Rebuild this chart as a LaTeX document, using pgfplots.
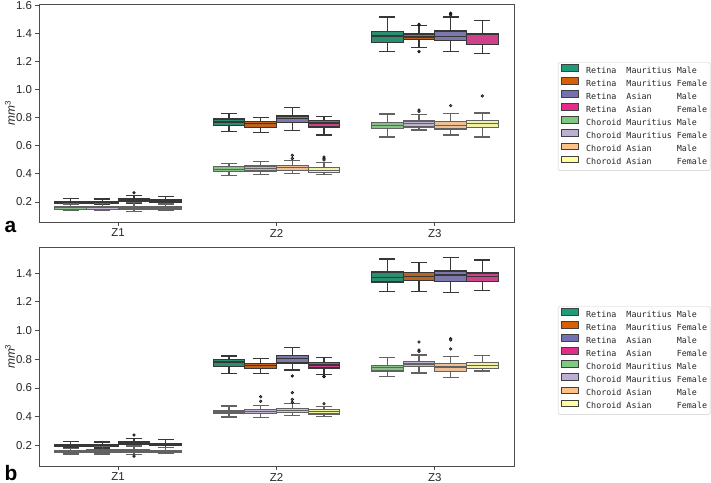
\documentclass[border=0pt]{standalone}
\usepackage{fontspec}
\setmainfont{Liberation Sans}
\setmonofont{DejaVu Sans Mono}
\usepackage{pgfplots}
\usepackage{pgfplotstable}
\pgfplotsset{compat=1.18}
\usepgfplotslibrary{statistics}

\definecolor{r1}{RGB}{43,142,112}
\definecolor{r2}{RGB}{190,99,29}
\definecolor{r3}{RGB}{124,120,171}
\definecolor{r4}{RGB}{207,65,137}
\definecolor{c1}{RGB}{136,192,136}
\definecolor{c2}{RGB}{191,179,207}
\definecolor{c3}{RGB}{238,192,149}
\definecolor{c4}{RGB}{242,242,166}
\definecolor{L1}{HTML}{1B9E77}
\definecolor{L2}{HTML}{D95F02}
\definecolor{L3}{HTML}{7570B3}
\definecolor{L4}{HTML}{E7298A}
\definecolor{L5}{HTML}{7FC97F}
\definecolor{L6}{HTML}{BEAED4}
\definecolor{L7}{HTML}{FDC086}
\definecolor{L8}{HTML}{FFFF99}
\definecolor{eR}{RGB}{55,55,55}
\definecolor{eC}{RGB}{98,98,98}

% rows: Z1 (R-MM, R-MF, R-AM, R-AF, C-MM, C-MF, C-AM, C-AF), then Z2, then Z3
\pgfplotstableread{
lw q1 med q3 uw
0.185 0.193 0.199 0.205 0.225
0.180 0.192 0.197 0.203 0.222
0.190 0.205 0.213 0.222 0.248
0.183 0.198 0.205 0.213 0.240
0.140 0.148 0.158 0.168 0.185
0.138 0.148 0.158 0.170 0.190
0.132 0.150 0.158 0.168 0.195
0.140 0.150 0.157 0.165 0.185
0.704 0.744 0.771 0.792 0.830
0.694 0.730 0.758 0.773 0.801
0.709 0.768 0.794 0.813 0.875
0.678 0.735 0.763 0.780 0.808
0.388 0.416 0.433 0.452 0.476
0.395 0.421 0.438 0.457 0.490
0.402 0.423 0.445 0.459 0.497
0.395 0.409 0.426 0.445 0.483
1.272 1.339 1.384 1.418 1.520
1.300 1.358 1.377 1.398 1.458
1.272 1.353 1.379 1.420 1.520
1.261 1.325 1.393 1.403 1.496
0.664 0.723 0.744 0.768 0.828
0.714 0.735 0.758 0.778 0.826
0.678 0.721 0.747 0.776 0.830
0.664 0.733 0.758 0.783 0.835
}\dataA

\pgfplotstableread{
lw q1 med q3 uw
0.188 0.196 0.202 0.208 0.228
0.182 0.193 0.198 0.205 0.224
0.192 0.207 0.215 0.224 0.250
0.185 0.198 0.205 0.213 0.240
0.140 0.148 0.156 0.165 0.180
0.140 0.150 0.158 0.168 0.190
0.138 0.148 0.157 0.167 0.195
0.142 0.150 0.157 0.165 0.185
0.702 0.749 0.781 0.800 0.823
0.702 0.735 0.758 0.772 0.804
0.725 0.774 0.804 0.825 0.884
0.693 0.739 0.760 0.776 0.814
0.397 0.420 0.432 0.444 0.474
0.395 0.423 0.437 0.451 0.479
0.409 0.428 0.444 0.458 0.490
0.402 0.418 0.434 0.448 0.469
1.272 1.340 1.372 1.409 1.500
1.272 1.351 1.379 1.404 1.474
1.268 1.342 1.388 1.416 1.509
1.279 1.342 1.376 1.402 1.493
0.679 0.718 0.742 0.758 0.814
0.705 0.751 0.767 0.783 0.830
0.672 0.714 0.746 0.772 0.818
0.718 0.737 0.758 0.779 0.828
}\dataB

\newcommand\bx[5]{%
\pgfplotstablegetelem{#2}{lw}\of#1\let\vlw\pgfplotsretval
\pgfplotstablegetelem{#2}{q1}\of#1\let\vqa\pgfplotsretval
\pgfplotstablegetelem{#2}{med}\of#1\let\vmed\pgfplotsretval
\pgfplotstablegetelem{#2}{q3}\of#1\let\vqc\pgfplotsretval
\pgfplotstablegetelem{#2}{uw}\of#1\let\vuw\pgfplotsretval
\edef\tmpplot{\noexpand\addplot[forget plot, fill=#4, draw=#5, line width=1.3bp,
  boxplot/draw direction=y,
  boxplot prepared={draw position=#3, lower whisker=\vlw, lower quartile=\vqa,
    median=\vmed, upper quartile=\vqc, upper whisker=\vuw,
    box extend=0.2, whisker extend=0.1}] coordinates {};}%
\tmpplot}

\newcommand\allboxes[1]{%
\bx{#1}{0}{-0.3}{r1}{eR}\bx{#1}{1}{-0.1}{r2}{eR}\bx{#1}{2}{0.1}{r3}{eR}\bx{#1}{3}{0.3}{r4}{eR}%
\bx{#1}{8}{0.7}{r1}{eR}\bx{#1}{9}{0.9}{r2}{eR}\bx{#1}{10}{1.1}{r3}{eR}\bx{#1}{11}{1.3}{r4}{eR}%
\bx{#1}{16}{1.7}{r1}{eR}\bx{#1}{17}{1.9}{r2}{eR}\bx{#1}{18}{2.1}{r3}{eR}\bx{#1}{19}{2.3}{r4}{eR}%
\bx{#1}{4}{-0.3}{c1}{eC}\bx{#1}{5}{-0.1}{c2}{eC}\bx{#1}{6}{0.1}{c3}{eC}\bx{#1}{7}{0.3}{c4}{eC}%
\bx{#1}{12}{0.7}{c1}{eC}\bx{#1}{13}{0.9}{c2}{eC}\bx{#1}{14}{1.1}{c3}{eC}\bx{#1}{15}{1.3}{c4}{eC}%
\bx{#1}{20}{1.7}{c1}{eC}\bx{#1}{21}{1.9}{c2}{eC}\bx{#1}{22}{2.1}{c3}{eC}\bx{#1}{23}{2.3}{c4}{eC}%
}

\newcommand\legendall{%
\addlegendimage{fill=L1, draw=black!75}\addlegendentry{Retina\ \ Mauritius\ Male}
\addlegendimage{fill=L2, draw=black!75}\addlegendentry{Retina\ \ Mauritius\ Female}
\addlegendimage{fill=L3, draw=black!75}\addlegendentry{Retina\ \ Asian\ \ \ \ \ Male}
\addlegendimage{fill=L4, draw=black!75}\addlegendentry{Retina\ \ Asian\ \ \ \ \ Female}
\addlegendimage{fill=L5, draw=black!75}\addlegendentry{Choroid\ Mauritius\ Male}
\addlegendimage{fill=L6, draw=black!75}\addlegendentry{Choroid\ Mauritius\ Female}
\addlegendimage{fill=L7, draw=black!75}\addlegendentry{Choroid\ Asian\ \ \ \ \ Male}
\addlegendimage{fill=L8, draw=black!75}\addlegendentry{Choroid\ Asian\ \ \ \ \ Female}
}

\pgfplotsset{
  panel/.style={
    scale only axis, width=475bp,
    xmin=-0.5, xmax=2.5,
    xtick={0,1,2}, xticklabels={Z1,Z2,Z3},
    ytick={0.2,0.4,0.6,0.8,1.0,1.2,1.4,1.6},
    tick pos=left, tick align=outside, major tick length=3.5bp,
    axis line style={black!70, line width=0.9bp},
    every tick/.style={black!70, line width=0.9bp},
    tick label style={font=\fontsize{11.5}{13}\selectfont, text=black!85},
    yticklabel style={/pgf/number format/.cd, fixed, fixed zerofill, precision=1, assume math mode=true},
    ylabel={\textit{mm}\textsuperscript{3}},
    ylabel style={font=\fontsize{12}{14}\selectfont, text=black!85,
      at={(axis description cs:-0.061,0.5)}, anchor=center},
    legend cell align=left,
    legend image code/.code={\draw[##1, sharp corners, line width=1bp] (0bp,-0.4bp) rectangle (17bp,6.4bp);},
    legend style={draw=black!20, rounded corners=1.5bp, inner xsep=3bp, inner ysep=2bp,
      font=\ttfamily\fontsize{8.4}{10}\selectfont, text=black!85,
      column sep=7bp, row sep=0pt,
      nodes={inner sep=0pt, text height=8.3bp, text depth=4bp, anchor=west}},
  }
}

\begin{document}
\begin{tikzpicture}
\path[use as bounding box] (0,0) rectangle (711bp,-483bp);
% panel a
\begin{axis}[panel, at={(39bp,-222bp)}, anchor=south west, height=218bp,
  ymin=0.057, ymax=1.612,
  legend style={at={(1.0926,0.7339)}, anchor=north west}]
\allboxes{\dataA}
\addplot[forget plot, only marks, mark=*, mark size=1.4bp, mark options={draw=none, fill=eR}]
  coordinates {(0.1,0.266) (1.9,1.467) (1.9,1.272) (2.1,1.546) (2.1,1.535)};
\addplot[forget plot, only marks, mark=*, mark size=1.4bp, mark options={draw=none, fill=eC}]
  coordinates {(1.1,0.533) (1.1,0.510) (1.3,0.521) (1.3,0.510) (1.3,0.500)
               (1.9,0.856) (1.9,0.845) (2.1,0.887) (2.3,0.956)};
\legendall
\end{axis}
% panel b
\begin{axis}[panel, at={(39bp,-466bp)}, anchor=south west, height=219bp,
  ymin=0.056, ymax=1.583,
  legend style={at={(1.0926,0.7306)}, anchor=north west}]
\allboxes{\dataB}
\addplot[forget plot, only marks, mark=*, mark size=1.4bp, mark options={draw=none, fill=eR}]
  coordinates {(0.1,0.272) (1.1,0.684) (1.3,0.681) (1.3,0.678)};
\addplot[forget plot, only marks, mark=*, mark size=1.4bp, mark options={draw=none, fill=eC}]
  coordinates {(0.1,0.125) (0.9,0.539) (0.9,0.507) (1.1,0.567) (1.1,0.520) (1.1,0.500)
               (1.3,0.490) (1.9,0.921) (1.9,0.865) (1.9,0.855) (2.1,0.944) (2.1,0.935) (2.1,0.872)};
\legendall
\end{axis}
\node[anchor=base west, font=\fontsize{21}{21}\selectfont\bfseries] at (1bp,-232bp) {a};
\node[anchor=base west, font=\fontsize{21}{21}\selectfont\bfseries] at (1bp,-480bp) {b};
\end{tikzpicture}
\end{document}
